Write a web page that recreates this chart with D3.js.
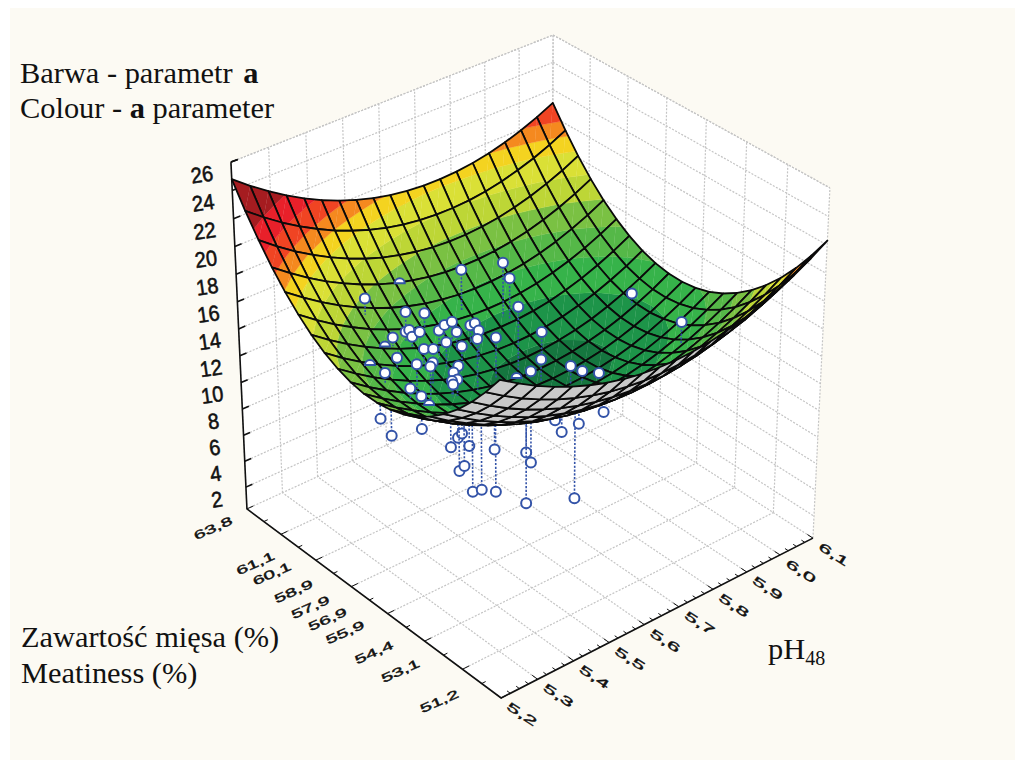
<!DOCTYPE html>
<html><head><meta charset="utf-8"><script src="https://cdn.jsdelivr.net/npm/d3@7"></script>
<style>html,body{margin:0;background:#fff}svg{display:block}</style></head><body><svg id="c" width="1023" height="769"></svg>
<script>
const W=1023,H=769;
const zDomain=[0.3,26],phDomain=[5.2,6.1],meatDomain=[51.2,63.8];
const bandLevels=[11,12.3,13.6,14.8,16,17.2,18.4,19.2,20,21,22.2];
const bandColors=["#15763f","#1d9449","#36b34a","#55b848","#7ac143","#bdd636","#dae036","#f4d320","#f5891f","#f04423","#e8202a","#a51c20"];
const backColor="#c9c9c9";
const zTicks=[2,4,6,8,10,12,14,16,18,20,22,24,26];
const phTicks=[5.2,5.3,5.4,5.5,5.6,5.7,5.8,5.9,6.0,6.1];
const phLabels=["5,2","5,3","5,4","5,5","5,6","5,7","5,8","5,9","6,0","6,1"];
const meatVals=[63.8,61.1,60.1,58.9,57.9,56.9,55.9,54.4,53.1,51.2];
const meatLabels=["63,8","61,1","60,1","58,9","57,9","56,9","55,9","54,4","53,1","51,2"];
// surface heights: one row per meatiness step (51.2 → 63.8), one column per pH step (5.2 → 6.1)
const zGrid=[
[23.00,22.19,21.46,20.82,20.27,19.80,19.41,19.12,18.91,18.79,18.75,18.80,18.93,19.16,19.47,19.86,20.34,20.91,21.57,22.31],
[21.52,20.70,19.96,19.31,18.75,18.27,17.88,17.57,17.36,17.22,17.18,17.22,17.35,17.56,17.86,18.25,18.73,19.29,19.93,20.67],
[20.20,19.37,18.62,17.96,17.39,16.91,16.51,16.20,15.97,15.83,15.78,15.81,15.93,16.14,16.43,16.81,17.27,17.83,18.46,19.19],
[19.04,18.20,17.45,16.78,16.20,15.71,15.30,14.98,14.75,14.60,14.54,14.57,14.68,14.88,15.16,15.53,15.99,16.53,17.16,17.88],
[18.05,17.21,16.44,15.77,15.18,14.68,14.27,13.94,13.70,13.54,13.47,13.49,13.59,13.78,14.06,14.42,14.87,15.40,16.03,16.74],
[17.23,16.37,15.61,14.92,14.33,13.82,13.39,13.06,12.81,12.64,12.57,12.57,12.67,12.85,13.12,13.47,13.92,14.44,15.06,15.76],
[16.57,15.71,14.93,14.24,13.64,13.12,12.69,12.34,12.08,11.91,11.83,11.83,11.91,12.09,12.35,12.70,13.13,13.65,14.25,14.95],
[16.08,15.21,14.42,13.73,13.11,12.59,12.15,11.80,11.53,11.35,11.25,11.25,11.33,11.49,11.74,12.08,12.51,13.02,13.62,14.30],
[15.76,14.88,14.08,13.38,12.76,12.22,11.77,11.41,11.14,10.95,10.85,10.83,10.90,11.06,11.30,11.63,12.05,12.55,13.14,13.82],
[15.60,14.71,13.91,13.19,12.56,12.02,11.57,11.20,10.91,10.72,10.61,10.58,10.65,10.80,11.03,11.35,11.76,12.26,12.84,13.51],
[15.60,14.71,13.90,13.18,12.54,11.99,11.52,11.15,10.86,10.65,10.53,10.50,10.56,10.70,10.92,11.24,11.64,12.12,12.70,13.36],
[15.78,14.87,14.06,13.32,12.68,12.12,11.65,11.26,10.96,10.75,10.62,10.58,10.63,10.76,10.98,11.29,11.68,12.16,12.72,13.38],
[16.12,15.20,14.38,13.64,12.99,12.42,11.94,11.54,11.24,11.02,10.88,10.83,10.87,11.00,11.21,11.50,11.89,12.36,12.92,13.56],
[16.62,15.70,14.87,14.12,13.46,12.88,12.39,11.99,11.68,11.45,11.30,11.25,11.28,11.40,11.60,11.89,12.26,12.73,13.27,13.91],
[17.29,16.36,15.52,14.77,14.10,13.51,13.02,12.61,12.28,12.05,11.89,11.83,11.85,11.96,12.15,12.44,12.80,13.26,13.80,14.43],
[18.13,17.19,16.34,15.58,14.90,14.31,13.80,13.39,13.05,12.81,12.65,12.58,12.59,12.69,12.88,13.15,13.51,13.96,14.49,15.11],
[19.13,18.19,17.33,16.56,15.87,15.27,14.76,14.33,13.99,13.74,13.57,13.49,13.50,13.59,13.77,14.03,14.38,14.82,15.34,15.96],
[20.30,19.35,18.48,17.70,17.01,16.40,15.88,15.44,15.10,14.83,14.66,14.57,14.57,14.65,14.82,15.08,15.42,15.85,16.37,16.97],
[21.64,20.68,19.80,19.01,18.31,17.69,17.16,16.72,16.37,16.10,15.91,15.81,15.80,15.88,16.04,16.29,16.63,17.05,17.55,18.15],
[23.14,22.17,21.28,20.49,19.78,19.15,18.62,18.17,17.80,17.52,17.33,17.23,17.21,17.27,17.43,17.67,18.00,18.41,18.91,19.50],
[24.80,23.83,22.94,22.13,21.41,20.78,20.23,19.78,19.40,19.12,18.92,18.80,18.78,18.84,18.98,19.21,19.53,19.94,20.43,21.01]];
// measured samples: [pH, meatiness, colour a]
const samplesAbove=[[5.401,61.07,16.60],[5.491,60.69,14.94],[5.539,60.61,14.38],[5.422,60.10,14.45],[5.467,60.27,14.18],[5.482,60.36,14.05],[5.473,60.06,13.95],[5.506,60.27,13.71],[5.389,59.31,14.14],[5.377,58.13,14.98],[5.314,58.55,14.67],[5.335,57.71,14.16],[5.353,57.50,13.58],[5.470,59.43,13.70],[5.503,59.56,13.19],[5.449,58.63,13.77],[5.395,57.79,14.96],[5.524,59.64,14.24],[5.557,59.94,13.97],[5.587,60.10,13.70],[5.581,59.77,13.33],[5.518,59.18,13.89],[5.566,59.26,12.95],[5.515,58.55,12.81],[5.485,58.26,12.97],[5.476,57.92,12.92],[5.461,57.92,12.98],[5.464,57.92,12.68],[5.620,59.77,13.38],[5.635,59.81,13.31],[5.614,59.26,13.57],[5.542,58.09,14.93],[5.611,58.38,13.96],[5.677,58.42,15.42],[5.752,58.55,12.56],[5.692,57.58,12.18],[5.683,57.92,11.06],[5.734,56.87,11.91],[5.752,56.62,11.58],[5.785,56.37,11.29],[5.995,58.21,12.99],[5.656,60.82,16.07],[5.743,60.27,16.14],[5.752,60.10,15.04],[5.941,55.06,14.54]];
const samplesPartHidden=[[5.530,61.66,15.68],[5.290,58.84,15.24],[5.380,59.73,14.64],[5.350,57.08,13.42],[5.647,58.00,10.90]];
const samplesBelow=[[5.347,59.43,10.02],[5.365,59.22,8.74],[5.416,58.63,9.23],[5.371,58.93,11.14],[5.494,58.59,6.94],[5.512,58.55,7.49],[5.521,58.51,7.73],[5.539,58.47,6.62],[5.515,58.55,4.92],[5.527,58.51,5.20],[5.545,58.42,3.09],[5.566,58.34,3.07],[5.599,58.21,2.64],[5.596,58.21,5.92],[5.662,57.79,5.32],[5.671,57.71,4.51],[5.662,57.79,1.39],[5.743,56.79,1.84],[5.746,56.66,7.66],[5.722,57.08,6.88],[5.713,57.25,7.70],[5.797,56.32,8.27]];
const meatOff=[[-34,19],[-43,16],[-46,12],[-48,12],[-51,13],[-54,10],[-57,8],[-59,5],[-60,3],[-62,3]];
const anchors=[[0,0,0,501,698],[1,0,0,813,538],[0,1,0,247,509],[0,1,1,231,162],[1,0,1,830,188],[1,1,1,553,35]];
const NY=zGrid.length-1,NX=zGrid[0].length-1;
function solve(A,b){const n=b.length;const M=A.map((r,i)=>[...r,b[i]]);for(let i=0;i<n;i++){let p=i;for(let k=i+1;k<n;k++)if(Math.abs(M[k][i])>Math.abs(M[p][i]))p=k;[M[i],M[p]]=[M[p],M[i]];for(let k=0;k<n;k++){if(k==i)continue;const f=M[k][i]/M[i][i];for(let j=i;j<=n;j++)M[k][j]-=f*M[i][j];}}return M.map((r,i)=>r[n]/r[i]);}
const rows=[],rhs=[];
anchors.forEach(([x,y,z,X,Y])=>{rows.push([1,x,y,z,0,0,0,0,-X*x,-X*y,-X*z]);rhs.push(X);rows.push([0,0,0,0,1,x,y,z,-Y*x,-Y*y,-Y*z]);rhs.push(Y);});
const AtA=d3.range(11).map(i=>d3.range(11).map(j=>d3.sum(rows,r=>r[i]*r[j])+(i==j?1e-9:0)));
const Atb=d3.range(11).map(i=>d3.sum(rows,(r,k)=>r[i]*rhs[k]));
const q=solve(AtA,Atb);
function proj(x,y,z){const w=1+q[8]*x+q[9]*y+q[10]*z;return [(q[0]+q[1]*x+q[2]*y+q[3]*z)/w,(q[4]+q[5]*x+q[6]*y+q[7]*z)/w];}
const zn=d3.scaleLinear().domain(zDomain).range([0,1]);
const xn=d3.scaleLinear().domain(phDomain).range([0,1]);
const yn=d3.scaleLinear().domain(meatDomain).range([0,1]);
const P3=(ph,meat,v)=>proj(xn(ph),yn(meat),zn(v));
const nodeP=(i,j)=>proj(i/NX,j/NY,zn(zGrid[j][i]));
function surfaceAt(ph,meat){const u=xn(ph)*NX,v=yn(meat)*NY,i=Math.min(NX-1,Math.floor(u)),j=Math.min(NY-1,Math.floor(v)),a=u-i,b=v-j;
 return (1-b)*((1-a)*zGrid[j][i]+a*zGrid[j][i+1])+b*((1-a)*zGrid[j+1][i]+a*zGrid[j+1][i+1]);}
const svg=d3.select("#c");
svg.append("rect").attr("width",W).attr("height",H).attr("fill","#fff");
svg.append("rect").attr("x",10).attr("y",8).attr("width",1005).attr("height",752).attr("fill","#fcfaf3");
const line=d3.line();
svg.append("path").attr("d",line([proj(0,0,0),proj(1,0,0),proj(1,0,1),proj(1,1,1),proj(0,1,1),proj(0,1,0)])+"Z").attr("fill","#fff");
const gg=svg.append("g").attr("fill","none").attr("stroke","#c4c4c4").attr("stroke-dasharray","2 1.5").attr("stroke-width",1.2);
const seg=(a,b)=>gg.append("path").attr("d",line([a,b]));
phTicks.forEach(t=>{const x=xn(t);seg(proj(x,1,0),proj(x,1,1));seg(proj(x,0,0),proj(x,1,0));});
d3.range(8).forEach(i=>{const y=i/7;seg(proj(1,y,0),proj(1,y,1));seg(proj(0,y,0),proj(1,y,0));});
zTicks.forEach(t=>{const z=zn(t);seg(proj(0,1,z),proj(1,1,z));seg(proj(1,1,z),proj(1,0,z));});
seg(proj(0,1,1),proj(1,1,1));seg(proj(1,1,1),proj(1,0,1));
const ax=svg.append("g").attr("stroke","#111").attr("fill","none").attr("stroke-width",1.6);
ax.append("path").attr("d",line([proj(0,1,1),proj(0,1,0),proj(0,0,0),proj(1,0,0)]));
zTicks.forEach(t=>{const z=zn(t);ax.append("path").attr("d",line([proj(0,1,z),proj(.02,1,z)]));});
ax.append("path").attr("d",line([proj(0,1,1),proj(.02,1,1)]));
d3.range(37).forEach(i=>{const x=i/36;ax.append("path").attr("d",line([proj(x,0,0),proj(x,i%4?.012:.02,0)])).attr("stroke-width",1);});
d3.range(15).forEach(i=>{const y=i/14;ax.append("path").attr("d",line([proj(0,y,0),proj(i%2?.012:.02,y,0)])).attr("stroke-width",1);});
const tl=svg.append("g").attr("font-family","Liberation Sans").attr("fill","#111").attr("text-anchor","middle").attr("stroke","#111").attr("stroke-width",.5);
const lab=(s,x,y,rot,sx,sy,fs)=>tl.append("text").attr("transform",`translate(${x},${y}) rotate(${rot}) scale(${sx},${sy})`).attr("dy",".36em").attr("font-size",fs).text(s);
zTicks.forEach(t=>{const p=proj(0,1,zn(t));lab(String(t),p[0]-29,p[1]+12,-8,1.05,1.15,19);});
phLabels.forEach((s,i)=>{const p=proj(xn(phTicks[i]),0,0);lab(s,p[0]+21,p[1]+16,33,1.6,.8,15);});
meatLabels.forEach((s,i)=>{const p=proj(0,yn(meatVals[i]),0);lab(s,p[0]+meatOff[i][0],p[1]+meatOff[i][1],-24,1.4,.8,15);});
const blue="#3353a8",dotR=5;
const drawStem=(sel,d)=>sel.append("path").attr("d",line([P3(d[0],d[1],d[2]),P3(d[0],d[1],surfaceAt(d[0],d[1]))])).attr("stroke",blue).attr("stroke-width",1.6).attr("stroke-dasharray","2.2 1.6").attr("fill","none");
const drawDot=(sel,d)=>{const a=P3(d[0],d[1],d[2]);sel.append("circle").attr("cx",a[0]).attr("cy",a[1]).attr("r",dotR).attr("fill","#fff").attr("stroke",blue).attr("stroke-width",2);};
const gb=svg.append("g");samplesBelow.forEach(d=>{drawStem(gb,d);drawDot(gb,d);});
const g=svg.append("g");
const lv=[-1e9,...bandLevels,1e9];
function clip(poly,t,keepAbove){const out=[];for(let i=0;i<poly.length;i++){const a=poly[i],b=poly[(i+1)%poly.length];const ia=keepAbove?a[2]>=t:a[2]<=t,ib=keepAbove?b[2]>=t:b[2]<=t;if(ia)out.push(a);if(ia!==ib){const s=(t-a[2])/(b[2]-a[2]);out.push([a[0]+s*(b[0]-a[0]),a[1]+s*(b[1]-a[1]),t]);}}return out;}
const order=[];for(let i=0;i<NX;i++)for(let j=0;j<NY;j++)order.push([i,j]);
order.sort((a,b)=>(b[0]/NX+b[1]/NY)-(a[0]/NX+a[1]/NY));
order.forEach(([i,j])=>{
 const c=[[i,j],[i+1,j],[i+1,j+1],[i,j+1]].map(([a,b])=>[...nodeP(a,b),zGrid[b][a]]);
 const outline=c.map(p=>[p[0],p[1]]);
 if(d3.polygonArea(outline)<0){g.append("path").attr("d",line(outline)+"Z").attr("fill",backColor);}
 else [[c[0],c[1],c[2]],[c[0],c[2],c[3]]].forEach(tri=>{
  bandColors.forEach((col,k)=>{let p=clip(tri,lv[k],true);if(p.length)p=clip(p,lv[k+1],false);if(p.length>2)g.append("path").attr("d",line(p.map(d=>[d[0],d[1]]))+"Z").attr("fill",col).attr("stroke",col).attr("stroke-width",.3);});
 });
 g.append("path").attr("d",line(outline)+"Z").attr("fill","none").attr("stroke","#0a0a0a").attr("stroke-width",1.8).attr("stroke-linejoin","round");
});
const gc=svg.append("g");
samplesPartHidden.forEach(d=>{const a=P3(d[0],d[1],d[2]);gc.append("path").attr("transform",`translate(${a})`).attr("d",d3.arc()({innerRadius:0,outerRadius:dotR,startAngle:-Math.PI/2,endAngle:Math.PI/2})).attr("fill","#fff").attr("stroke",blue).attr("stroke-width",2);});
const ga=svg.append("g");samplesAbove.forEach(d=>drawStem(ga,d));samplesAbove.forEach(d=>drawDot(ga,d));
const T=svg.append("g").attr("font-family","Liberation Serif").attr("font-size",30.4).attr("fill","#111");
const t1=T.append("text").attr("x",20).attr("y",83);t1.append("tspan").text("Barwa - parametr ");t1.append("tspan").attr("font-weight","bold").attr("dx",3).text("a");
const t2=T.append("text").attr("x",20).attr("y",118);t2.append("tspan").text("Colour - ");t2.append("tspan").attr("font-weight","bold").text("a");t2.append("tspan").text(" parameter");
T.append("text").attr("x",21).attr("y",647).text("Zawartość mięsa (%)");
T.append("text").attr("x",21).attr("y",683).text("Meatiness (%)");
const t3=T.append("text").attr("x",768).attr("y",659);t3.append("tspan").text("pH");t3.append("tspan").attr("font-size",20).attr("dy",6).text("48");
</script></body></html>
